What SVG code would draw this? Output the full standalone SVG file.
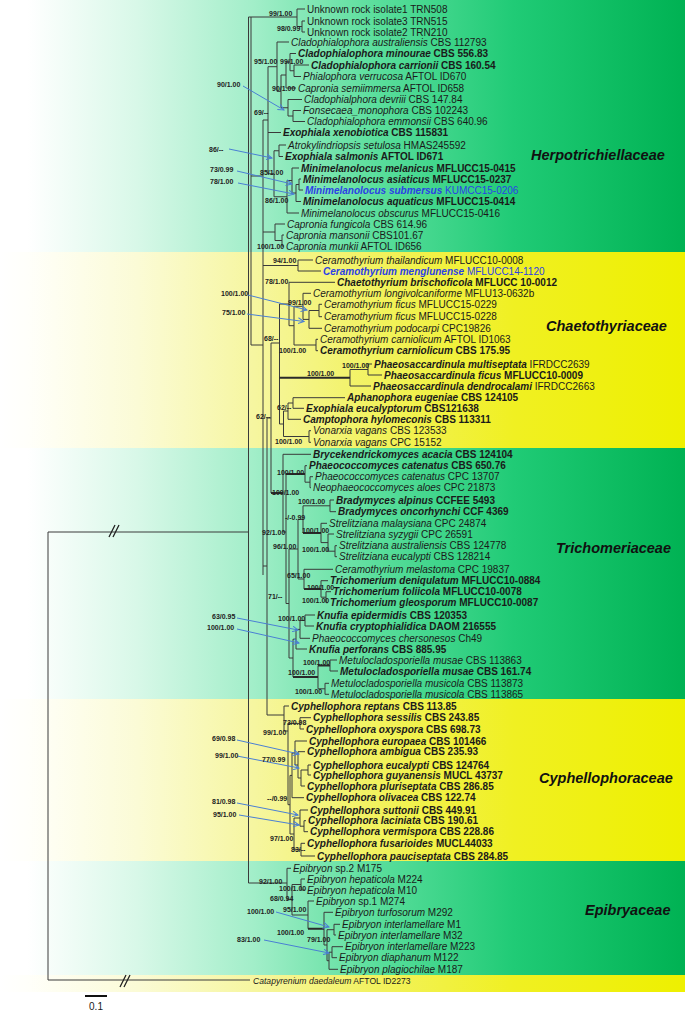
<svg xmlns="http://www.w3.org/2000/svg" width="685" height="1013" viewBox="0 0 685 1013">
<style>
.t{font-family:"Liberation Sans",Arial,sans-serif;font-size:10px;fill:#1a1a1a}
.b{font-weight:bold}
.i{font-style:italic}
.bl{fill:#2b3fe6}
.s{font-family:"Liberation Sans",Arial,sans-serif;font-size:7px;font-weight:bold;fill:#222}
.fam{font-family:"Liberation Sans",Arial,sans-serif;font-size:14.5px;font-weight:bold;font-style:italic;fill:#111}
.br{stroke:#3a3a3a;stroke-width:1;fill:none}
.thk{stroke:#2a2a2a;stroke-width:2;fill:none}
.ar{stroke:#4a7fd4;stroke-width:1;fill:none;marker-end:url(#ah)}
.sl{stroke:#222;stroke-width:1.3}
</style>
<defs>
<linearGradient id="gG" gradientUnits="userSpaceOnUse" x1="0" y1="0" x2="685" y2="0">
<stop offset="0" stop-color="#ffffff"/><stop offset="0.04" stop-color="#ffffff"/><stop offset="0.2" stop-color="#d8f8e8"/><stop offset="0.37" stop-color="#a2eec9"/><stop offset="0.55" stop-color="#5ade9c"/><stop offset="0.75" stop-color="#20cb76"/><stop offset="1" stop-color="#00b253"/>
</linearGradient>
<linearGradient id="gY" gradientUnits="userSpaceOnUse" x1="0" y1="0" x2="685" y2="0">
<stop offset="0" stop-color="#ffffff"/><stop offset="0.04" stop-color="#fffffa"/><stop offset="0.2" stop-color="#fbfbd6"/><stop offset="0.37" stop-color="#f6f6a0"/><stop offset="0.55" stop-color="#f2f25e"/><stop offset="0.75" stop-color="#f0f022"/><stop offset="1" stop-color="#eef000"/>
</linearGradient>
<marker id="ah" markerWidth="7" markerHeight="7" refX="6" refY="3.5" orient="auto" markerUnits="userSpaceOnUse">
<path d="M0,0.5 L6,3.5 L0,6.5" fill="none" stroke="#4a7fd4" stroke-width="1"/>
</marker>
</defs>
<rect width="685" height="1013" fill="#ffffff"/>
<g id="bands">
<rect x="0" y="0" width="685" height="252" fill="url(#gG)"/>
<rect x="0" y="252" width="685" height="196" fill="url(#gY)"/>
<rect x="0" y="448" width="685" height="251" fill="url(#gG)"/>
<rect x="0" y="699" width="685" height="162" fill="url(#gY)"/>
<rect x="0" y="861" width="685" height="114" fill="url(#gG)"/>
<rect x="0" y="975" width="685" height="17" fill="url(#gY)"/>
</g>
<g id="connectors">
<path class="br" d="M48 532V980 M48 532H248.5 M48 980H250
M248.5 17V883 M251 17V345 M248.5 17H297 M251 176H263 M251 345H263 M248.5 883H287
M263 120V575 M263 120H268 M263 232H275 M263 265.5H298 M263 566H267
M267 418V715 M267 418H271 M267 715H284 M271 343V493 M271 343H279.5
M297 9V26.5 M297 9H305 M297 26.5H302 M302 21V32 M302 21H305 M302 32H305
M268 66.7V173.75 M268 66.7H277 M268 132.5H281 M268 173.75H274
M277 42V91.4 M277 42H289 M277 91.4H281
M281 75V107.75 M281 75H286 M281 107.75H288
M286 62V88 M286 62H290 M286 88H296
M290 53.5V70.75 M290 53.5H296 M290 70.75H294
M294 65V76.5 M294 65H309 M294 76.5H301
M288 99.5V116 M288 99.5H302 M288 116H293
M293 110.5V121.5 M293 110.5H301 M293 121.5H305
M274 150.75V196.75 M274 150.75H279 M274 196.75H287
M279 145V156.5 M279 145H286 M279 156.5H283
M287 180.5V213 M287 180.5H292 M287 213H299
M292 168V193 M292 168H299 M292 193H296
M296 184.5V201.5 M296 184.5H299 M296 201.5H301
M299 179V190 M299 179H301 M299 190H303
M275 224V240.5 M275 224H285 M275 240.5H282
M282 235V246 M282 235H284 M282 246H284
M298 260V271 M298 260H313 M298 271H321
M279.5 304V424 M279.5 304H289 M279.5 424H283.5
M289 282.3V325.7 M289 282.3H335 M289 325.7H294
M294 306.3V345 M294 306.3H303 M294 345H316
M303 293.3V319.4 M303 293.3H311 M303 319.4H309
M309 310.5V328.3 M309 310.5H319 M309 328.3H322
M319 304.3V316.7 M319 304.3H322 M319 316.7H322
M316 339.3V350.7 M316 339.3H318 M316 350.7H318
M350 369.5V386 M350 369.5H368 M350 386H371
M368 364V375 M368 364H372 M368 375H382
M283.5 411V436.5 M283.5 411H288 M283.5 436.5H309
M288 403V419.3 M288 403H293 M288 419.3H301
M293 397.7V408.3 M293 397.7H345 M293 408.3H304
M309 430.7V442.3 M309 430.7H311 M309 442.3H311
M283 454.3V532 M283 454.3H311 M283 532H286
M286 474V603.5 M286 603.5H289
M289 549V658 M289 549H298 M289 658H293
M305 465.7V482.2 M305 465.7H307 M305 482.2H310
M310 476.7V487.7 M310 476.7H313 M310 487.7H311
M298 519.4V579 M298 519.4H303 M298 579H304
M303 505.8V533 M303 505.8H330
M330 500V511.7 M330 500H334 M330 511.7H336
M321 523.3V542.6 M321 523.3H327 M321 542.6H328
M328 534V551.2 M328 534H334 M328 551.2H335
M335 545.7V556.7 M335 545.7H337 M335 556.7H337
M304 569.3V589 M304 569.3H333
M321 580.7V597.2 M321 580.7H328 M321 597.2H326
M326 591.7V602.7 M326 591.7H331 M326 602.7H328
M293 639.2V677 M293 639.2H296
M296 629.4V649 M296 629.4H300 M296 649H307
M300 620.5V638.3 M300 620.5H305 M300 638.3H310
M305 615V626 M305 615H315 M305 626H314
M318 665.5V688.8 M318 688.8H325
M330 660V671 M330 660H337 M330 671H338
M325 683.3V694.3 M325 683.3H329 M325 694.3H329
M284 706V731 M284 706H289 M284 731H288
M288 723.4V804.7 M288 723.4H300 M288 804.7H290
M300 717.7V729 M300 717.7H311 M300 729H304
M290 775.4V834 M290 775.4H292 M290 834H294
M292 753V797.7 M292 753H295 M292 797.7H304
M295 741V765 M295 741H307 M295 765H298
M298 751.7V778 M298 751.7H305 M298 778H301
M301 770V786 M301 770H308 M301 786H305
M308 765V775 M308 765H311 M308 775H311
M294 818V849.7 M294 818H300 M294 849.7H301
M300 810V826.2 M300 810H308 M300 826.2H304
M304 820.7V831.7 M304 820.7H306 M304 831.7H308
M301 843.3V856 M301 843.3H305 M301 856H315
M287 868.3V899.7 M287 868.3H291 M287 899.7H292
M292 884.5V915 M292 884.5H301 M292 915H308
M301 879V890 M301 879H305 M301 890H305
M308 901V928.7 M308 901H314
M324 912.3V945 M324 912.3H333 M324 945H327
M327 929.7V960.7 M327 929.7H334 M327 960.7H329
M334 924.3V935 M334 924.3H340 M334 935H336
M329 952.2V969.3 M329 952.2H332 M329 969.3H338
M332 946.7V957.7 M332 946.7H343 M332 957.7H337"/>
<path class="thk" d="M271 493H283 M279.5 377.7H350 M286 474H305 M303 533H321 M304 589H321 M293 677H318 M318 665.5H330 M308 928.7H324"/>
<path class="sl" d="M109 537L115 525 M113 537L119 525 M120 987L126 975 M124 987L130 975"/>
<path class="ar" d="M243 86L284 110"/>
<path class="ar" d="M229 149L272 158"/>
<path class="ar" d="M237 171L292 184"/>
<path class="ar" d="M238 183L294 194"/>
<path class="ar" d="M248 295L307 310"/>
<path class="ar" d="M247 314L304 321.5"/>
<path class="ar" d="M237 618L298 630"/>
<path class="ar" d="M237 629L299 643"/>
<path class="ar" d="M237 740L299 754"/>
<path class="ar" d="M237 756L299 768"/>
<path class="ar" d="M237 803L298 815"/>
<path class="ar" d="M239 815L299 825"/>
<path class="ar" d="M276 912L329 927"/>
<path class="ar" d="M264 940L329 953"/>
</g>
<g id="supports" class="s">
<text x="269" y="15.5">99/1.00</text>
<text x="277" y="30.5">98/0.99</text>
<text x="254" y="63.5">95/1.00</text>
<text x="280" y="63.5">99/1.00</text>
<text x="272" y="90.5">90/1.00</text>
<text x="254" y="114.5">69/--</text>
<text x="260" y="174.5">85/1.00</text>
<text x="265" y="202.5">86/1.00</text>
<text x="257" y="248.5">100/1.00</text>
<text x="273" y="262.5">94/1.00</text>
<text x="265" y="283.5">78/1.00</text>
<text x="288" y="304.5">99/1.00</text>
<text x="264" y="340.5">68/--</text>
<text x="279" y="352.5">100/1.00</text>
<text x="342" y="367.5">100/1.00</text>
<text x="307" y="375.5">100/1.00</text>
<text x="277" y="409.5">62/--</text>
<text x="256" y="418.5">62/--</text>
<text x="275" y="443.5">100/1.00</text>
<text x="277" y="474.5">100/1.00</text>
<text x="272" y="494.5">100/1.00</text>
<text x="298" y="503.5">100/1.00</text>
<text x="285" y="519.5">-/-0.99</text>
<text x="302" y="533">100/1.00</text>
<text x="262" y="534.5">92/1.00</text>
<text x="273" y="548.5">96/1.00</text>
<text x="302" y="551.5">100/1.00</text>
<text x="287" y="577.5">65/1.00</text>
<text x="307" y="589.5">100/1.00</text>
<text x="268" y="598.5">71/--</text>
<text x="302" y="602.5">100/1.00</text>
<text x="278" y="620.5">100/1.00</text>
<text x="303" y="664.5">100/1.00</text>
<text x="288" y="674.5">100/1.00</text>
<text x="295" y="693.5">100/1.00</text>
<text x="283" y="724.5">73/0.98</text>
<text x="263" y="734.5">99/1.00</text>
<text x="262" y="761.5">77/0.99</text>
<text x="267" y="800.5">--/0.99</text>
<text x="270" y="840.5">97/1.00</text>
<text x="291" y="851.5">83/--</text>
<text x="259" y="883.5">92/1.00</text>
<text x="279" y="890.5">100/1.00</text>
<text x="270" y="900.5">68/0.94</text>
<text x="283" y="911.5">95/1.00</text>
<text x="277" y="934.5">100/1.00</text>
<text x="307" y="941.5">79/1.00</text>
<text x="217" y="86.5">90/1.00</text>
<text x="209" y="151.5">86/--</text>
<text x="210" y="172">73/0.99</text>
<text x="210" y="183.5">78/1.00</text>
<text x="221" y="295.5">100/1.00</text>
<text x="222" y="314.5">75/1.00</text>
<text x="212" y="618.5">63/0.95</text>
<text x="207" y="629.5">100/1.00</text>
<text x="212" y="740.5">69/0.98</text>
<text x="215" y="757.5">99/1.00</text>
<text x="212" y="803.5">81/0.98</text>
<text x="213" y="816.5">95/1.00</text>
<text x="247" y="913.5">100/1.00</text>
<text x="237" y="941.5">83/1.00</text>
</g>
<g id="families">
<g id="fam-herpotrichiellaceae"><text class="fam" x="531" y="160">Herpotrichiellaceae</text></g>
<g id="fam-chaetothyriaceae"><text class="fam" x="546" y="331">Chaetothyriaceae</text></g>
<g id="fam-trichomeriaceae"><text class="fam" x="556" y="553">Trichomeriaceae</text></g>
<g id="fam-cyphellophoraceae"><text class="fam" x="539" y="783">Cyphellophoraceae</text></g>
<g id="fam-epibryaceae"><text class="fam" x="585" y="915">Epibryaceae</text></g>
</g>
<g id="taxa" class="t">
<g id="n01"><text x="307" y="12.5">Unknown rock isolate1 TRN508</text></g>
<g id="n02"><text x="307" y="24.5">Unknown rock isolate3 TRN515</text></g>
<g id="n03"><text x="307" y="35.5">Unknown rock isolate2 TRN210</text></g>
<g id="n04"><text x="291" y="45.5"><tspan class="i">Cladophialophora australiensis</tspan> CBS 112793</text></g>
<g id="n05"><text class="b" x="298" y="57"><tspan class="i">Cladophialophora minourae</tspan> CBS 556.83</text></g>
<g id="n06"><text class="b" x="311" y="68.5"><tspan class="i">Cladophialophora carrionii</tspan> CBS 160.54</text></g>
<g id="n07"><text x="303" y="80"><tspan class="i">Phialophora verrucosa</tspan> AFTOL ID670</text></g>
<g id="n08"><text x="298" y="91.5"><tspan class="i">Capronia semiimmersa</tspan> AFTOL ID658</text></g>
<g id="n09"><text x="304" y="103"><tspan class="i">Cladophialphora devriii</tspan> CBS 147.84</text></g>
<g id="n10"><text x="303" y="114"><tspan class="i">Fonsecaea_monophora</tspan> CBS 102243</text></g>
<g id="n11"><text x="307" y="125"><tspan class="i">Cladophialophora emmonsii</tspan> CBS 640.96</text></g>
<g id="n12"><text class="b" x="283" y="136"><tspan class="i">Exophiala xenobiotica</tspan> CBS 115831</text></g>
<g id="n13"><text x="288" y="148.5"><tspan class="i">Atrokylindriopsis setulosa</tspan> HMAS245592</text></g>
<g id="n14"><text class="b" x="285" y="160"><tspan class="i">Exophiala salmonis</tspan> AFTOL ID671</text></g>
<g id="n15"><text class="b" x="301" y="171.5"><tspan class="i">Minimelanolocus melanicus</tspan> MFLUCC15-0415</text></g>
<g id="n16"><text class="b" x="303" y="182.5"><tspan class="i">Minimelanolocus asiaticus</tspan> MFLUCC15-0237</text></g>
<g id="n17"><text class="bl" x="305" y="193.5"><tspan class="b i">Minimelanolocus submersus</tspan> KUMCC15-0206</text></g>
<g id="n18"><text class="b" x="303" y="205"><tspan class="i">Minimelanolocus aquaticus</tspan> MFLUCC15-0414</text></g>
<g id="n19"><text x="301" y="216.5"><tspan class="i">Minimelanolocus obscurus</tspan> MFLUCC15-0416</text></g>
<g id="n20"><text x="287" y="227.5"><tspan class="i">Capronia fungicola</tspan> CBS 614.96</text></g>
<g id="n21"><text x="286" y="238.5"><tspan class="i">Capronia mansonii</tspan> CBS101.67</text></g>
<g id="n22"><text x="286" y="249.5"><tspan class="i">Capronia munkii</tspan> AFTOL ID656</text></g>
<g id="n23"><text x="315" y="263.5"><tspan class="i">Ceramothyrium thailandicum</tspan> MFLUCC10-0008</text></g>
<g id="n24"><text class="bl" x="323" y="274.5"><tspan class="b i">Ceramothyrium menglunense</tspan> MFLUCC14-1120</text></g>
<g id="n25"><text class="b" x="337" y="285.8"><tspan class="i">Chaetothyrium brischoficola</tspan> MFLUCC 10-0012</text></g>
<g id="n26"><text x="313" y="296.8"><tspan class="i">Ceramothyrium longivolcaniforme</tspan> MFLU13-0632b</text></g>
<g id="n27"><text x="324" y="307.8"><tspan class="i">Ceramothyrium ficus</tspan> MFLUCC15-0229</text></g>
<g id="n28"><text x="324" y="320.2"><tspan class="i">Ceramothyrium ficus</tspan> MFLUCC15-0228</text></g>
<g id="n29"><text x="324" y="331.8"><tspan class="i">Ceramothyrium podocarpi</tspan> CPC19826</text></g>
<g id="n30"><text x="320" y="342.8"><tspan class="i">Ceramothyrium carniolicum</tspan> AFTOL ID1063</text></g>
<g id="n31"><text class="b" x="320" y="354.2"><tspan class="i">Ceramothyrium carniolicum</tspan> CBS 175.95</text></g>
<g id="n32"><text x="374" y="367.5"><tspan class="b i">Phaeosaccardinula multiseptata</tspan> IFRDCC2639</text></g>
<g id="n33"><text class="b" x="384" y="378.5"><tspan class="i">Phaeosaccardinula ficus</tspan> MFLUCC10-0009</text></g>
<g id="n34"><text x="373" y="389.5"><tspan class="b i">Phaeosaccardinula dendrocalami</tspan> IFRDCC2663</text></g>
<g id="n35"><text class="b" x="347" y="401.2"><tspan class="i">Aphanophora eugeniae</tspan> CBS 124105</text></g>
<g id="n36"><text class="b" x="306" y="411.8"><tspan class="i">Exophiala eucalyptorum</tspan> CBS121638</text></g>
<g id="n37"><text class="b" x="303" y="422.8"><tspan class="i">Camptophora hylomeconis</tspan> CBS 113311</text></g>
<g id="n38"><text x="313" y="434.2"><tspan class="i">Vonarxia vagans</tspan> CBS 123533</text></g>
<g id="n39"><text x="313" y="445.8"><tspan class="i">Vonarxia vagans</tspan> CPC 15152</text></g>
<g id="n40"><text class="b" x="313" y="457.8"><tspan class="i">Brycekendrickomyces acacia</tspan> CBS 124104</text></g>
<g id="n41"><text class="b" x="309" y="469.2"><tspan class="i">Phaeococcomyces catenatus</tspan> CBS 650.76</text></g>
<g id="n42"><text x="315" y="480.2"><tspan class="i">Phaeococcomyces catenatus</tspan> CPC 13707</text></g>
<g id="n43"><text x="313" y="491.2"><tspan class="i">Neophaeococcomyces aloes</tspan> CPC 21873</text></g>
<g id="n44"><text class="b" x="336" y="503.5"><tspan class="i">Bradymyces alpinus</tspan> CCFEE 5493</text></g>
<g id="n45"><text class="b" x="338" y="515.2"><tspan class="i">Bradymyces oncorhynchi</tspan> CCF 4369</text></g>
<g id="n46"><text x="329" y="526.8"><tspan class="i">Strelitziana malaysiana</tspan> CPC 24874</text></g>
<g id="n47"><text x="336" y="537.5"><tspan class="i">Strelitziana syzygii</tspan> CPC 26591</text></g>
<g id="n48"><text x="339" y="549.2"><tspan class="i">Strelitziana australiensis</tspan> CBS 124778</text></g>
<g id="n49"><text x="339" y="560.2"><tspan class="i">Strelitziana eucalypti</tspan> CBS 128214</text></g>
<g id="n50"><text x="335" y="572.8"><tspan class="i">Ceramothyrium melastoma</tspan> CPC 19837</text></g>
<g id="n51"><text class="b" x="330" y="584.2"><tspan class="i">Trichomerium deniqulatum</tspan> MFLUCC10-0884</text></g>
<g id="n52"><text class="b" x="333" y="595.2"><tspan class="i">Trichomerium foliicola</tspan> MFLUCC10-0078</text></g>
<g id="n53"><text class="b" x="330" y="606.2"><tspan class="i">Trichomerium gleosporum</tspan> MFLUCC10-0087</text></g>
<g id="n54"><text class="b" x="317" y="618.5"><tspan class="i">Knufia epidermidis</tspan> CBS 120353</text></g>
<g id="n55"><text class="b" x="316" y="629.5"><tspan class="i">Knufia cryptophialidica</tspan> DAOM 216555</text></g>
<g id="n56"><text x="312" y="641.8"><tspan class="i">Phaeococcomyces chersonesos</tspan> Ch49</text></g>
<g id="n57"><text class="b" x="309" y="652.5"><tspan class="i">Knufia perforans</tspan> CBS 885.95</text></g>
<g id="n58"><text x="339" y="663.5"><tspan class="i">Metulocladosporiella musae</tspan> CBS 113863</text></g>
<g id="n59"><text class="b" x="340" y="674.5"><tspan class="i">Metulocladosporiella musae</tspan> CBS 161.74</text></g>
<g id="n60"><text x="331" y="686.8"><tspan class="i">Metulocladosporiella musicola</tspan> CBS 113873</text></g>
<g id="n61"><text x="331" y="697.8"><tspan class="i">Metulocladosporiella musicola</tspan> CBS 113865</text></g>
<g id="n62"><text class="b" x="291" y="709.5"><tspan class="i">Cyphellophora reptans</tspan> CBS 113.85</text></g>
<g id="n63"><text class="b" x="313" y="721.2"><tspan class="i">Cyphellophora sessilis</tspan> CBS 243.85</text></g>
<g id="n64"><text class="b" x="306" y="732.5"><tspan class="i">Cyphellophora oxyspora</tspan> CBS 698.73</text></g>
<g id="n65"><text class="b" x="309" y="744.5"><tspan class="i">Cyphellophora europaea</tspan> CBS 101466</text></g>
<g id="n66"><text class="b" x="307" y="755.2"><tspan class="i">Cyphellophora ambigua</tspan> CBS 235.93</text></g>
<g id="n67"><text class="b" x="313" y="768.5"><tspan class="i">Cyphellophora eucalypti</tspan> CBS 124764</text></g>
<g id="n68"><text class="b" x="313" y="778.5"><tspan class="i">Cyphellophora guyanensis</tspan> MUCL 43737</text></g>
<g id="n69"><text class="b" x="307" y="789.5"><tspan class="i">Cyphellophora pluriseptata</tspan> CBS 286.85</text></g>
<g id="n70"><text class="b" x="306" y="801.2"><tspan class="i">Cyphellophora olivacea</tspan> CBS 122.74</text></g>
<g id="n71"><text class="b" x="310" y="813.5"><tspan class="i">Cyphellophora suttonii</tspan> CBS 449.91</text></g>
<g id="n72"><text class="b" x="308" y="824.2"><tspan class="i">Cyphellophora laciniata</tspan> CBS 190.61</text></g>
<g id="n73"><text class="b" x="310" y="835.2"><tspan class="i">Cyphellophora vermispora</tspan> CBS 228.86</text></g>
<g id="n74"><text class="b" x="307" y="846.8"><tspan class="i">Cyphellophora fusarioides</tspan> MUCL44033</text></g>
<g id="n75"><text class="b" x="317" y="859.5"><tspan class="i">Cyphellophora pauciseptata</tspan> CBS 284.85</text></g>
<g id="n76"><text x="293" y="871.8"><tspan class="i">Epibryon</tspan> sp.2 M175</text></g>
<g id="n77"><text x="307" y="882.5"><tspan class="i">Epibryon hepaticola</tspan> M224</text></g>
<g id="n78"><text x="307" y="893.5"><tspan class="i">Epibryon hepaticola</tspan> M10</text></g>
<g id="n79"><text x="316" y="904.5"><tspan class="i">Epibryon</tspan> sp.1 M274</text></g>
<g id="n80"><text x="335" y="915.8"><tspan class="i">Epibryon turfosorum</tspan> M292</text></g>
<g id="n81"><text x="342" y="927.8"><tspan class="i">Epibryon interlamellare</tspan> M1</text></g>
<g id="n82"><text x="338" y="938.5"><tspan class="i">Epibryon interlamellare</tspan> M32</text></g>
<g id="n83"><text x="345" y="950.2"><tspan class="i">Epibryon interlamellare</tspan> M223</text></g>
<g id="n84"><text x="339" y="961.2"><tspan class="i">Epibryon diaphanum</tspan> M122</text></g>
<g id="n85"><text x="340" y="972.8"><tspan class="i">Epibryon plagiochilae</tspan> M187</text></g>
<g id="n86"><text x="253" y="984" style="font-size:8.6px"><tspan class="i">Catapyrenium daedaleum</tspan> AFTOL ID2273</text></g>
</g>
<g id="scalebar">
<path d="M85 996H107" stroke="#111" stroke-width="2"/>
<text class="t" x="96" y="1010" text-anchor="middle">0.1</text>
</g>
</svg>
